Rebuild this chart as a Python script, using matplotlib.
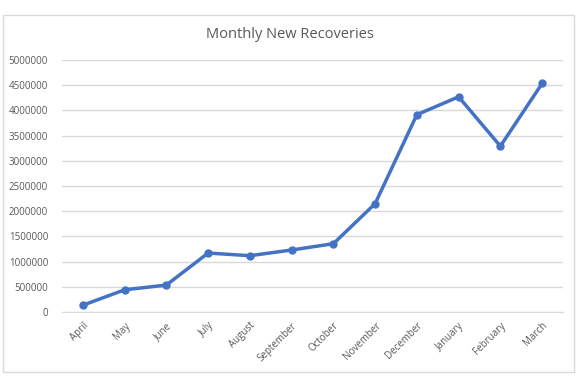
import matplotlib.pyplot as plt
from matplotlib.patches import Rectangle

# Data
months = ['April', 'May', 'June', 'July', 'August', 'September', 'October',
          'November', 'December', 'January', 'February', 'March']
recoveries = [135000, 440000, 535000, 1170000, 1117000, 1230000, 1355000,
              2150000, 3915000, 4270000, 3290000, 4535000]
y_ticks = list(range(0, 5000001, 500000))

plt.rcParams['font.family'] = ['Open Sans', 'DejaVu Sans']

fig = plt.figure(figsize=(5.8, 3.84), dpi=100)
ax = fig.add_axes([62 / 580, 1 - 312 / 384, (563 - 62) / 580, (312 - 60) / 384])

# light chart border
fig.patches.append(Rectangle((3 / 580, 1 - 372 / 384), 571 / 580, 357 / 384,
                             transform=fig.transFigure, fill=False,
                             edgecolor='#d9d9d9', linewidth=1))

x = range(len(months))
ax.plot(x, recoveries, color='#4472C4', linewidth=2.5, marker='o', markersize=5)

ax.set_xlim(-0.5, len(months) - 0.5)
ax.set_ylim(0, 5000000)
ax.set_yticks(y_ticks)
ax.set_yticklabels([str(v) for v in y_ticks])
ax.set_xticks(list(x))
ax.set_xticklabels(months, rotation=45, ha='right', rotation_mode='anchor')

ax.grid(axis='y', color='#d9d9d9', linewidth=1)
ax.set_axisbelow(True)
for s in ['top', 'right', 'left']:
    ax.spines[s].set_visible(False)
ax.spines['bottom'].set_color('#d9d9d9')
ax.tick_params(axis='both', length=0, labelsize=7, colors='#595959')
ax.tick_params(axis='y', pad=10)
ax.tick_params(axis='x', pad=6)

fig.text(290 / 580, 1 - 35 / 384, 'Monthly New Recoveries', ha='center', va='center',
         fontsize=10.5, color='#595959')

fig.savefig('out.png', dpi=100)
